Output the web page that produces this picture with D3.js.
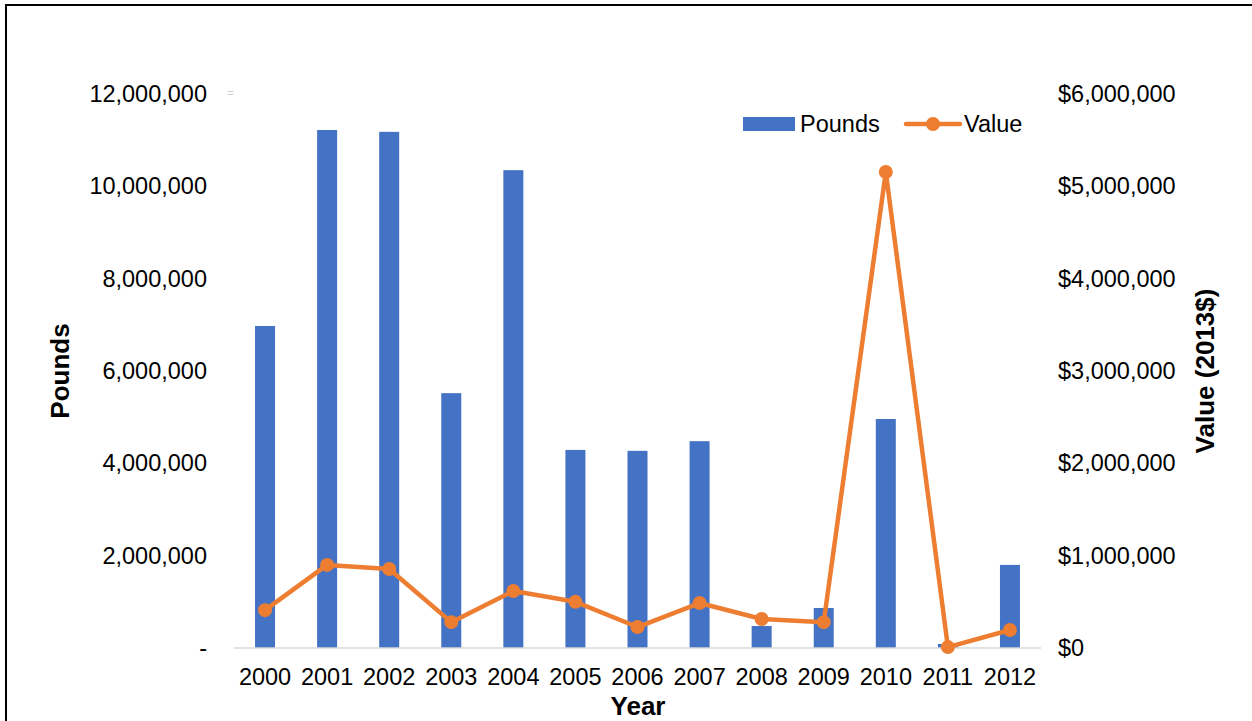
<!DOCTYPE html>
<html>
<head>
<meta charset="utf-8">
<script src="https://cdn.jsdelivr.net/npm/d3@7"></script>
<style>
  html, body { margin: 0; padding: 0; background: #fff; }
  svg { display: block; font-family: "Liberation Sans", Arial, sans-serif; }
</style>
</head>
<body>
<svg id="chart" width="1252" height="721"></svg>
<script>
const years = ["2000","2001","2002","2003","2004","2005","2006","2007","2008","2009","2010","2011","2012"];
const pounds = [6975000, 11220000, 11180000, 5520000, 10350000, 4290000, 4270000, 4480000, 477000, 866000, 4960000, 87000, 1800000];
const values = [410000, 900000, 856000, 280000, 617000, 500000, 227000, 487000, 314000, 280000, 5155000, 10000, 195000];
const leftTicks = [0, 2000000, 4000000, 6000000, 8000000, 10000000, 12000000];
const rightTicks = [0, 1000000, 2000000, 3000000, 4000000, 5000000, 6000000];

const svg = d3.select("#chart");
const plot = { left: 234, right: 1041, top: 94, bottom: 648 };
const FS = 23.5;

// frame
svg.append("line").attr("x1", 6).attr("x2", 1252).attr("y1", 5).attr("y2", 5)
  .attr("stroke", "#000").attr("stroke-width", 2);
svg.append("line").attr("x1", 6).attr("x2", 6).attr("y1", 4).attr("y2", 721)
  .attr("stroke", "#000").attr("stroke-width", 2);

const x = d3.scaleBand().domain(years).range([plot.left, plot.right]).paddingInner(0).paddingOuter(0);
const yL = d3.scaleLinear().domain([0, 12000000]).range([plot.bottom, plot.top]);
const yR = d3.scaleLinear().domain([0, 6000000]).range([plot.bottom, plot.top]);

const barW = 20;
const blue = "#4472C4", orange = "#ED7D31";

// bars
svg.append("g").selectAll("rect").data(years).join("rect")
  .attr("x", d => x(d) + x.bandwidth() / 2 - barW / 2)
  .attr("width", barW)
  .attr("y", (d, i) => yL(pounds[i]))
  .attr("height", (d, i) => plot.bottom - yL(pounds[i]))
  .attr("fill", blue);

// baseline
svg.append("line").attr("x1", plot.left).attr("x2", plot.right)
  .attr("y1", plot.bottom).attr("y2", plot.bottom)
  .attr("stroke", "#d9d9d9").attr("stroke-width", 1.5);

// line
const line = d3.line().x((d, i) => x(years[i]) + x.bandwidth() / 2).y(d => yR(d));
svg.append("path").datum(values).attr("d", line)
  .attr("fill", "none").attr("stroke", orange).attr("stroke-width", 4.5)
  .attr("stroke-linejoin", "round");
svg.append("g").selectAll("circle").data(values).join("circle")
  .attr("cx", (d, i) => x(years[i]) + x.bandwidth() / 2)
  .attr("cy", d => yR(d))
  .attr("r", 7)
  .attr("fill", orange);

// left axis
const fmtL = d => d === 0 ? "-" : d3.format(",")(d);
const axL = svg.append("g").attr("transform", `translate(${plot.left},0)`)
  .call(d3.axisLeft(yL).tickValues(leftTicks).tickFormat(fmtL).tickSize(0).tickPadding(27));
axL.select(".domain").remove();
axL.selectAll("text").attr("font-size", FS).attr("fill", "#000")
  .attr("font-family", "'Liberation Sans', Arial, sans-serif");

// right axis
const fmtR = d => "$" + d3.format(",")(d);
const axR = svg.append("g").attr("transform", `translate(${plot.right},0)`)
  .call(d3.axisRight(yR).tickValues(rightTicks).tickFormat(fmtR).tickSize(0).tickPadding(17));
axR.select(".domain").remove();
axR.selectAll("text").attr("font-size", FS).attr("fill", "#000")
  .attr("font-family", "'Liberation Sans', Arial, sans-serif");

// bottom axis
const axB = svg.append("g").attr("transform", `translate(0,${plot.bottom})`)
  .call(d3.axisBottom(x).tickSize(0).tickPadding(20));
axB.select(".domain").remove();
axB.selectAll("text").attr("font-size", FS).attr("fill", "#000")
  .attr("font-family", "'Liberation Sans', Arial, sans-serif");

// axis titles
svg.append("text").attr("x", 638).attr("y", 715).attr("text-anchor", "middle")
  .attr("font-size", 26).attr("font-weight", "bold").text("Year");
svg.append("text").attr("transform", "translate(69,371) rotate(-90)").attr("text-anchor", "middle")
  .attr("font-size", 26).attr("font-weight", "bold").text("Pounds");
svg.append("text").attr("transform", "translate(1214,371) rotate(-90)").attr("text-anchor", "middle")
  .attr("font-size", 26).attr("font-weight", "bold").text("Value (2013$)");

// faint artifact
svg.append("text").attr("x", 227).attr("y", 97).attr("font-size", 12).attr("fill", "#d0d0d0").text("=");

// legend
const lg = svg.append("g");
lg.append("rect").attr("x", 743).attr("y", 117).attr("width", 52).attr("height", 14).attr("fill", blue);
lg.append("text").attr("x", 800).attr("y", 132).attr("font-size", FS).text("Pounds");
lg.append("line").attr("x1", 906).attr("x2", 960).attr("y1", 124).attr("y2", 124)
  .attr("stroke", orange).attr("stroke-width", 4.5).attr("stroke-linecap", "round");
lg.append("circle").attr("cx", 933).attr("cy", 124).attr("r", 7).attr("fill", orange);
lg.append("text").attr("x", 964).attr("y", 132).attr("font-size", FS).text("Value");
</script>
</body>
</html>
